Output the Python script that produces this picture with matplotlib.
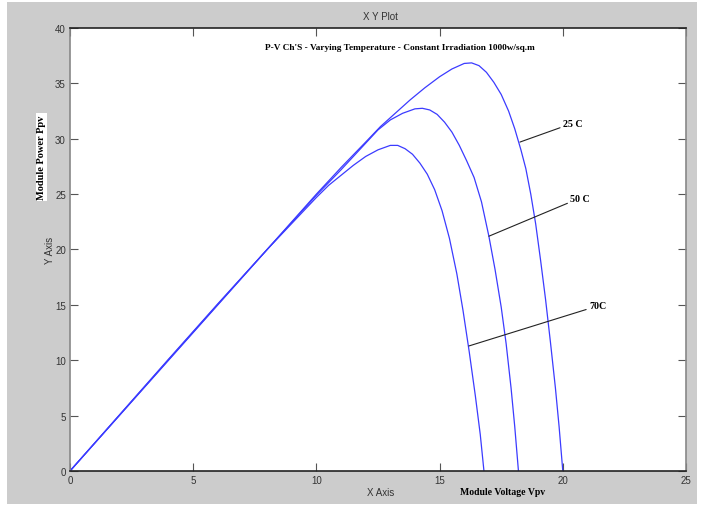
""" P-V characteristics, varying temperature """
from matplotlib import pyplot as plt
from matplotlib.patches import Rectangle

# module voltage (V) / power (W)
v_25 = [0, 2, 4, 6, 8, 10, 11, 12, 12.6, 13.2, 13.8, 14.4, 15, 15.5, 16, 16.3,
        16.6, 16.9, 17.2, 17.5, 17.8, 18.05, 18.3, 18.5, 18.7, 18.9, 19.1,
        19.3, 19.5, 19.7, 19.85, 20.0]
p_25 = [0, 5.0, 10.0, 15.0, 20.0, 25.0, 27.4, 29.7, 31.1, 32.3, 33.5, 34.6,
        35.6, 36.3, 36.8, 36.85, 36.6, 36.0, 35.1, 34.0, 32.5, 30.9, 29.0,
        27.3, 25.0, 22.3, 19.0, 15.5, 11.6, 7.5, 4.0, 0]

v_50 = [0, 2, 4, 6, 8, 10, 11, 12, 12.5, 13, 13.5, 14, 14.3, 14.6, 14.9, 15.2,
        15.5, 15.8, 16.1, 16.4, 16.7, 17.0, 17.25, 17.5, 17.7, 17.9, 18.05,
        18.2]
p_50 = [0, 5.02, 10.05, 15.05, 20.0, 24.9, 27.2, 29.6, 30.8, 31.7, 32.3,
        32.7, 32.75, 32.6, 32.2, 31.5, 30.6, 29.4, 28.0, 26.5, 24.3, 21.2,
        18.2, 14.8, 11.5, 7.5, 4.0, 0]

v_70 = [0, 2, 4, 6, 8, 10, 10.5, 11, 11.5, 12, 12.5, 13, 13.3, 13.6, 13.9,
        14.2, 14.5, 14.8, 15.1, 15.4, 15.7, 15.95, 16.2, 16.45, 16.65, 16.8]
p_70 = [0, 5.05, 10.1, 15.1, 20.0, 24.7, 25.8, 26.7, 27.6, 28.4, 29.0, 29.4,
        29.4, 29.1, 28.6, 27.8, 26.8, 25.4, 23.5, 21.0, 17.8, 14.5, 10.8, 6.8,
        3.3, 0]

labels = ["25 C", "50 C", "70C"]
# (curve point, text point) of the label leaders
leader_xy = [(18.26, 29.7), (17.0, 21.2), (16.19, 11.29)]
text_xy = [(20.0, 31.4), (20.3, 24.65), (21.06, 14.9)]

narrow = ["Liberation Sans Narrow", "Liberation Sans", "DejaVu Sans"]
serif = ["Liberation Serif", "DejaVu Serif"]

fig = plt.figure(figsize=(7.03, 5.10), dpi=100, facecolor="white")
fig.patches.append(Rectangle((7 / 703, 1 - 505 / 510), 690 / 703, 502 / 510,
                             transform=fig.transFigure, facecolor="#cccccc",
                             edgecolor="none", zorder=-10))

ax = fig.add_axes([70 / 703, 1 - 472 / 510, 616 / 703, 443 / 510])
ax.set_facecolor("white")

blue = "#3b3bff"
ax.plot(v_25, p_25, color=blue, lw=0.9)
ax.plot(v_50, p_50, color=blue, lw=0.9)
ax.plot(v_70, p_70, color=blue, lw=0.9)

for lab, (x0, y0), (x1, y1) in zip(labels, leader_xy, text_xy):
    ax.annotate(lab, xy=(x0, y0), xytext=(x1, y1), fontsize=7.2,
                family=serif, weight="bold", va="center", ha="left",
                arrowprops=dict(arrowstyle="-", color="#222222", lw=0.8,
                                shrinkA=0, shrinkB=0))

ax.set_xlim(0, 25)
ax.set_ylim(0, 40)
ax.set_xticks([0, 5, 10, 15, 20, 25])
ax.set_yticks([0, 5, 10, 15, 20, 25, 30, 35, 40])
ax.tick_params(direction="in", length=6, width=0.8, top=True, right=True,
               labelsize=7, labelcolor="#333333", color="#555555", pad=3)
for lab in ax.get_xticklabels() + ax.get_yticklabels():
    lab.set_family(narrow)

ax.spines["top"].set_color("#222222")
ax.spines["bottom"].set_color("#222222")
ax.spines["left"].set_color("#888888")
ax.spines["right"].set_color("#888888")
for s in ax.spines.values():
    s.set_linewidth(1.2)

ax.text(13.4, 38.3, "P-V Ch'S - Varying Temperature - Constant Irradiation 1000w/sq.m",
        fontsize=6.7, family=serif, weight="bold", ha="center", va="center")

fig.text(380 / 703, 1 - 17 / 510, "X Y Plot", fontsize=7, family=narrow,
         color="#333333", ha="center", va="center")
fig.text(381 / 703, 1 - 493 / 510, "X Axis", fontsize=7, family=narrow,
         color="#333333", ha="center", va="center")
fig.text(50 / 703, 1 - 250 / 510, "Y Axis", fontsize=7, family=narrow,
         color="#333333", ha="center", va="center", rotation=90)
fig.text(503 / 703, 1 - 493 / 510, "Module Voltage Vpv", fontsize=7,
         family=serif, weight="bold", ha="center", va="center")
fig.text(41.5 / 703, 1 - 158 / 510, "Module Power Ppv", fontsize=7.5,
         family=serif, weight="bold", ha="center", va="center", rotation=90,
         bbox=dict(facecolor="white", edgecolor="none", pad=1))

plt.savefig("out.png", dpi=100)
